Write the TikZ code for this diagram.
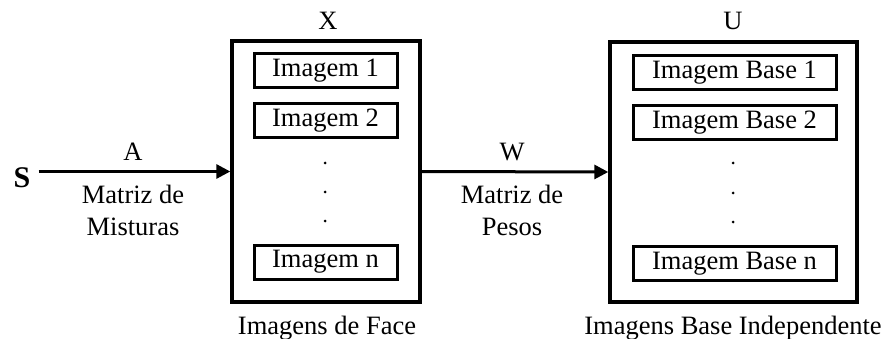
\documentclass[tikz,border=0pt]{standalone}
\usepackage{fontspec}
\setmainfont{Liberation Serif}
\usetikzlibrary{arrows.meta}
\begin{document}
\begin{tikzpicture}[x=1pt,y=-1pt,
  every node/.style={font=\fontsize{26.5}{30}\selectfont},
  outerbox/.style={draw,line width=3.4pt,inner sep=0pt},
  innerbox/.style={draw,line width=3pt,inner sep=0pt,minimum height=34pt},
  lbl/.style={anchor=base,inner sep=0pt},
  dotnode/.style={circle,fill,inner sep=0pt,minimum size=3pt},
  arr/.style={line width=3pt,-{Triangle[length=14pt,width=14pt]}}]
\useasboundingbox (0,0) rectangle (883,339);
% left box
\node[outerbox,minimum width=188pt,minimum height=261pt] (X) at (326,171.5) {};
\node[innerbox,minimum width=143pt] (x1) at (325.5,71) {Imagem 1};
\node[innerbox,minimum width=143pt] (x2) at (325.5,121) {Imagem 2};
\node[innerbox,minimum width=143pt] (xn) at (325.5,262) {Imagem n};
\node[dotnode] (xd1) at (325,163) {};
\node[dotnode] (xd2) at (325,192) {};
\node[dotnode] (xd3) at (325,221) {};
\node[lbl] (Xl) at (328,30) {X};
\node[lbl] (Xc) at (327,334) {Imagens de Face};
% right box
\node[outerbox,minimum width=247pt,minimum height=260pt] (U) at (733.5,172) {};
\node[innerbox,minimum width=203pt] (u1) at (734.5,72.5) {Imagem Base 1};
\node[innerbox,minimum width=203pt] (u2) at (734.5,122.5) {Imagem Base 2};
\node[innerbox,minimum width=203pt] (un) at (734.5,263.5) {Imagem Base n};
\node[dotnode] (ud1) at (733,163) {};
\node[dotnode] (ud2) at (733,193) {};
\node[dotnode] (ud3) at (733,222) {};
\node[lbl] (Ul) at (733,30) {U};
\node[lbl] (Uc) at (733,334) {Imagens Base Independente};
% source
\node[inner sep=0pt,font=\fontsize{30}{32}\selectfont\bfseries] (S) at (22,178) {S};
\draw[arr] ([xshift=8pt]S.east |- X.west) -- (X.west);
\draw[arr] (X.east) -- (U.west);
% labels
\node[lbl] (A) at (133,161) {A};
\node[lbl] (A1) at (133,204) {Matriz de};
\node[lbl] (A2) at (133,236) {Misturas};
\node[lbl] (W) at (512,161) {W};
\node[lbl] (W1) at (512,204) {Matriz de};
\node[lbl] (W2) at (512,236) {Pesos};
\end{tikzpicture}
\end{document}
